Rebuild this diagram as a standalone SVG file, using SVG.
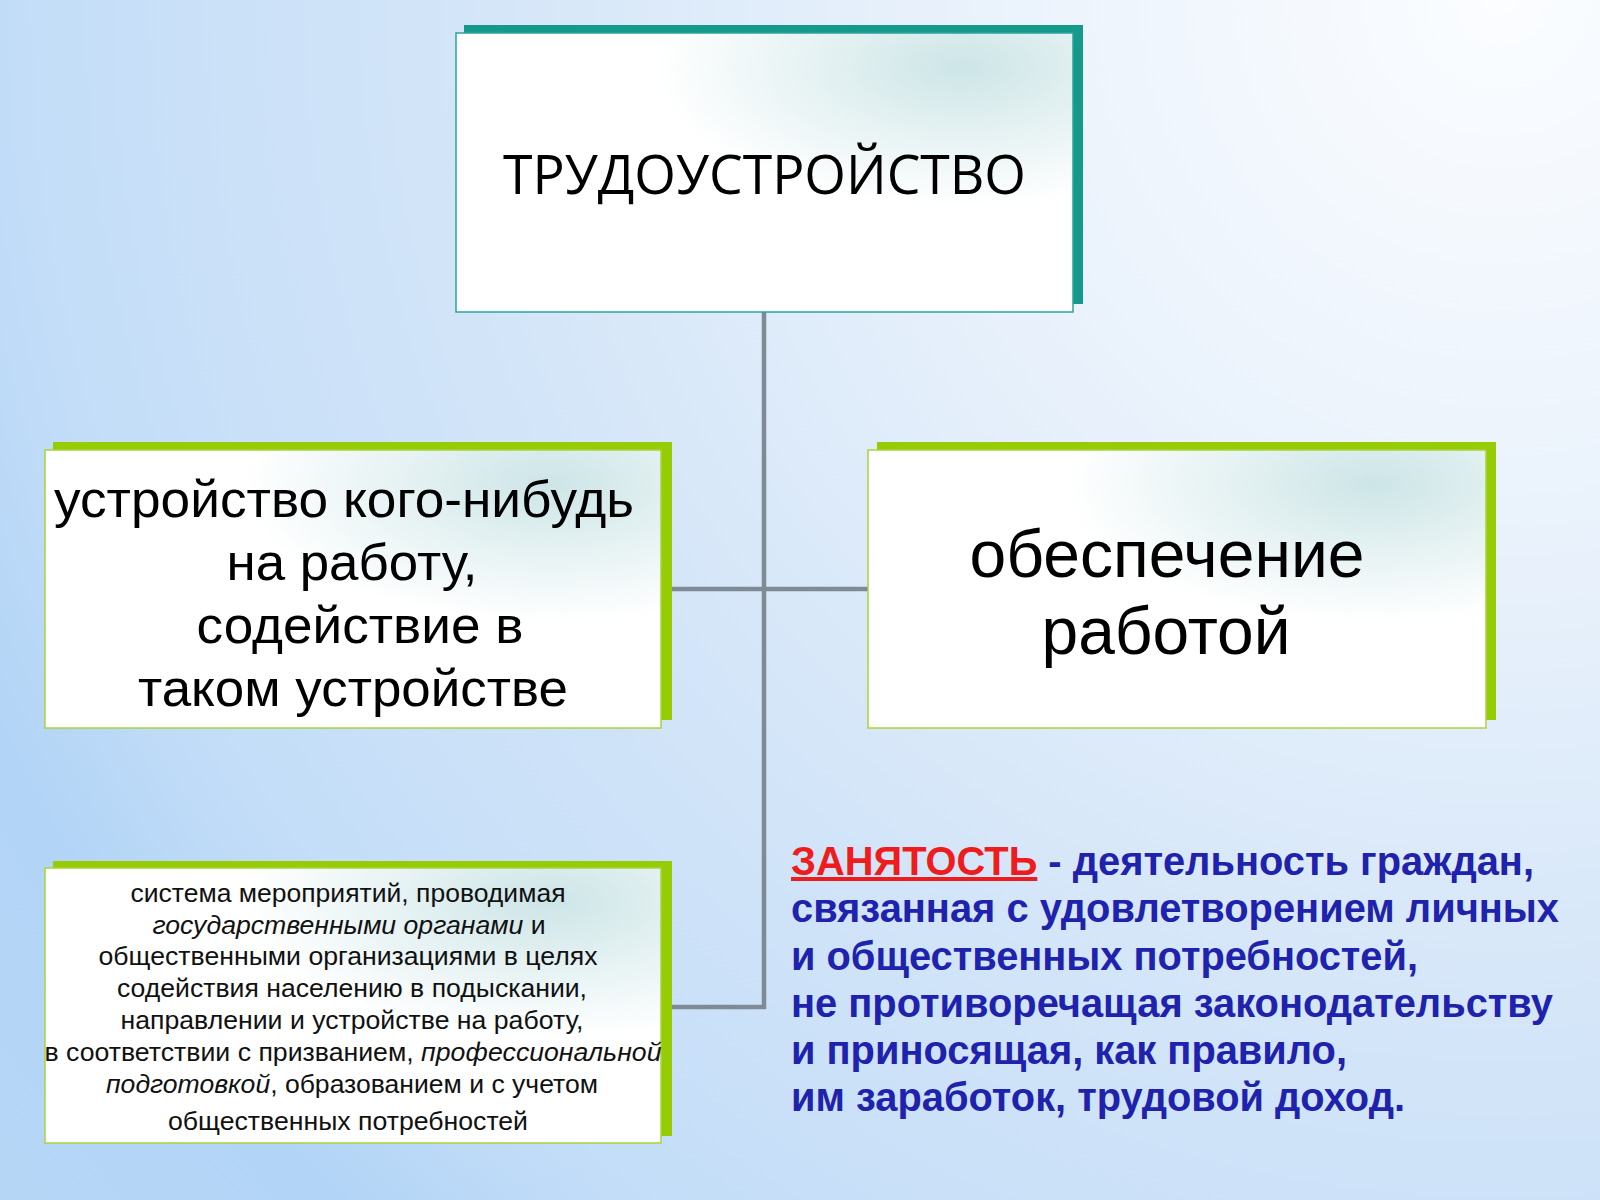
<svg xmlns="http://www.w3.org/2000/svg" width="1600" height="1200" viewBox="0 0 1600 1200">
  <defs>
    <radialGradient id="bg" cx="1500" cy="0" r="1900" gradientUnits="userSpaceOnUse">
      <stop offset="0" stop-color="#fbfdff"/>
      <stop offset="0.3" stop-color="#e8f1fb"/>
      <stop offset="0.55" stop-color="#d3e5f8"/>
      <stop offset="0.78" stop-color="#c3ddf8"/>
      <stop offset="0.88" stop-color="#b2d4f6"/>
      <stop offset="1" stop-color="#b6d6f6"/>
    </radialGradient>
    <radialGradient id="boxfill" cx="0.82" cy="0.12" r="0.5">
      <stop offset="0" stop-color="#cde5e7"/>
      <stop offset="0.45" stop-color="#e4f1f2"/>
      <stop offset="1" stop-color="#ffffff"/>
    </radialGradient>
    <style>
      .sh-teal { fill: #14998a; }
      .sh-green { fill: #96cc06; }
      .box-teal { fill: url(#boxfill); stroke: #2aa59a; stroke-width: 1.5; }
      .box-green { fill: url(#boxfill); stroke: #a9d43a; stroke-width: 1.5; }
      .conn { stroke: #7e8b97; stroke-width: 4.5; fill: none; }
      .title { font-family: "Open Sans", "Liberation Sans", sans-serif; font-size: 54px; fill: #000; }
      .big { font-family: "Liberation Sans", Arial, sans-serif; fill: #000; }
      .small { font-family: "Liberation Sans", Arial, sans-serif; font-size: 25px; fill: #111; }
      .def { font-family: "Liberation Sans", Arial, sans-serif; font-size: 40px; font-weight: bold; fill: #1e22ac; }
      .red { fill: #ee1c1c; text-decoration: underline; }
    </style>
  </defs>

  <rect x="0" y="0" width="1600" height="1200" fill="url(#bg)"/>

  <g id="connectors">
    <line class="conn" x1="764" y1="312" x2="764" y2="1009"/>
    <line class="conn" x1="672" y1="589" x2="868" y2="589"/>
    <line class="conn" x1="672" y1="1007" x2="766" y2="1007"/>
  </g>

  <g id="node-title">
    <rect class="sh-teal" x="464" y="25" width="619" height="279"/>
    <rect class="box-teal" x="456" y="33" width="617" height="279"/>
    <text class="title" x="764.5" y="194" text-anchor="middle" textLength="523" lengthAdjust="spacingAndGlyphs">ТРУДОУСТРОЙСТВО</text>
  </g>

  <g id="node-left">
    <rect class="sh-green" x="53" y="442" width="619" height="278"/>
    <rect class="box-green" x="45" y="450" width="616" height="278"/>
    <text class="big" font-size="52" x="344" y="517" text-anchor="middle" textLength="580" lengthAdjust="spacingAndGlyphs">устройство кого-нибудь</text>
    <text class="big" font-size="52" x="352" y="580" text-anchor="middle" textLength="251" lengthAdjust="spacingAndGlyphs">на работу,</text>
    <text class="big" font-size="52" x="360" y="643" text-anchor="middle" textLength="327" lengthAdjust="spacingAndGlyphs">содействие в</text>
    <text class="big" font-size="52" x="353" y="706" text-anchor="middle" textLength="430" lengthAdjust="spacingAndGlyphs">таком устройстве</text>
  </g>

  <g id="node-right">
    <rect class="sh-green" x="877" y="442" width="619" height="278"/>
    <rect class="box-green" x="868" y="450" width="618" height="278"/>
    <text class="big" font-size="66" x="1167" y="577" text-anchor="middle" textLength="395" lengthAdjust="spacingAndGlyphs">обеспечение</text>
    <text class="big" font-size="66" x="1166" y="654" text-anchor="middle" textLength="249" lengthAdjust="spacingAndGlyphs">работой</text>
  </g>

  <g id="node-bottom">
    <rect class="sh-green" x="53" y="861" width="619" height="275"/>
    <rect class="box-green" x="45" y="868" width="616" height="275"/>
    <text class="small" x="348" y="902" text-anchor="middle" textLength="435" lengthAdjust="spacingAndGlyphs">система мероприятий, проводимая</text>
    <text class="small" x="349" y="934" text-anchor="middle" textLength="393" lengthAdjust="spacingAndGlyphs"><tspan font-style="italic">государственными органами</tspan> и</text>
    <text class="small" x="348" y="965" text-anchor="middle" textLength="499" lengthAdjust="spacingAndGlyphs">общественными организациями в целях</text>
    <text class="small" x="352" y="997" text-anchor="middle" textLength="470" lengthAdjust="spacingAndGlyphs">содействия населению в подыскании,</text>
    <text class="small" x="352" y="1029" text-anchor="middle" textLength="463" lengthAdjust="spacingAndGlyphs">направлении и устройстве на работу,</text>
    <text class="small" x="353" y="1061" text-anchor="middle" textLength="617" lengthAdjust="spacingAndGlyphs">в соответствии с призванием, <tspan font-style="italic">профессиональной</tspan></text>
    <text class="small" x="352" y="1093" text-anchor="middle" textLength="492" lengthAdjust="spacingAndGlyphs"><tspan font-style="italic">подготовкой</tspan>, образованием и с учетом</text>
    <text class="small" x="348" y="1130" text-anchor="middle" textLength="360" lengthAdjust="spacingAndGlyphs">общественных потребностей</text>
  </g>

  <g id="definition">
    <text class="def" x="791" y="875" textLength="743" lengthAdjust="spacingAndGlyphs"><tspan class="red">ЗАНЯТОСТЬ</tspan> - деятельность граждан,</text>
    <text class="def" x="791" y="922" textLength="768" lengthAdjust="spacingAndGlyphs">связанная с удовлетворением личных</text>
    <text class="def" x="791" y="970" textLength="627" lengthAdjust="spacingAndGlyphs">и общественных потребностей,</text>
    <text class="def" x="791" y="1017" textLength="762" lengthAdjust="spacingAndGlyphs">не противоречащая законодательству</text>
    <text class="def" x="791" y="1064" textLength="556" lengthAdjust="spacingAndGlyphs">и приносящая, как правило,</text>
    <text class="def" x="791" y="1111" textLength="614" lengthAdjust="spacingAndGlyphs">им заработок, трудовой доход.</text>
  </g>
</svg>
